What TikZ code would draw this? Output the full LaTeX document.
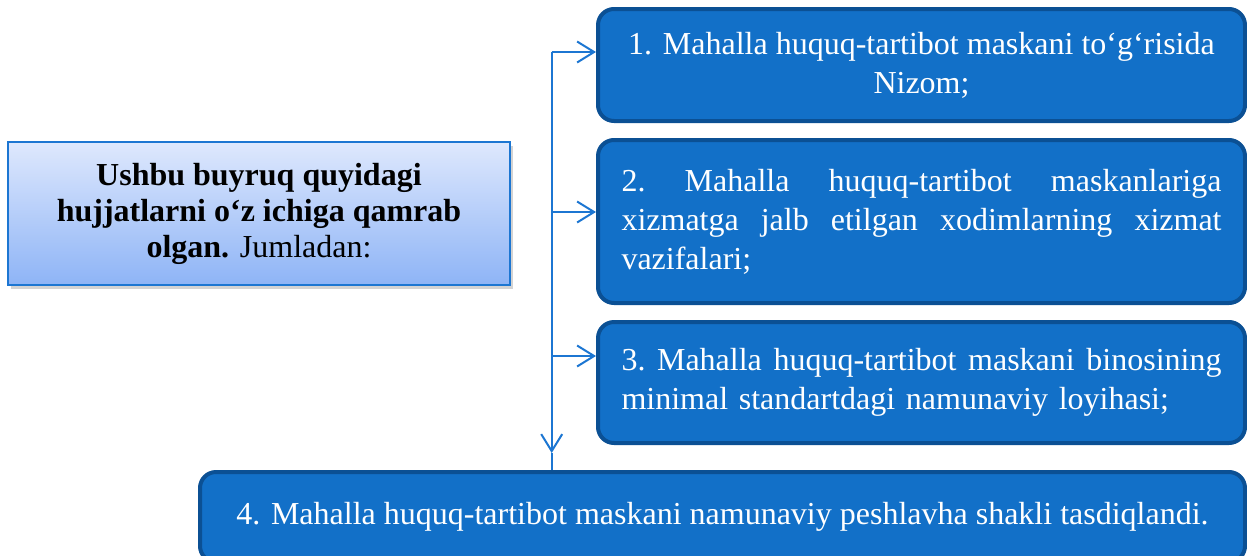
\documentclass[tikz,border=0pt]{standalone}
\usepackage{fontspec}
\setmainfont{Liberation Serif}
\usetikzlibrary{arrows.meta,shadows}
\definecolor{boxblue}{RGB}{18,112,200}
\definecolor{boxedge}{RGB}{11,80,148}
\definecolor{linkblue}{RGB}{28,118,210}
\definecolor{leadtop}{RGB}{222,232,253}
\definecolor{leadbot}{RGB}{142,180,246}
% one justified line, spaces spread to the full width
\newcommand\fullline[1]{\leavevmode\hbox to 600pt{\spaceskip=.25em plus 1fil minus .1em\xspaceskip=\spaceskip\relax#1}}
\begin{document}
\begin{tikzpicture}[x=1pt,y=-1pt,>={Straight Barb[length=17pt,width=21pt]},
  item/.style={rectangle,rounded corners=16pt,fill=boxblue,draw=boxedge,line width=4pt,
    text=white,font=\fontsize{32}{39}\selectfont,inner sep=0pt},
  lead/.style={rectangle,draw=linkblue,line width=1.5pt,top color=leadtop,bottom color=leadbot,
    drop shadow={shadow xshift=3pt,shadow yshift=-4pt,opacity=0.35},
    font=\fontsize{32}{36}\selectfont,align=center,inner sep=0pt},
  link/.style={draw=linkblue,line width=2pt}]
  \useasboundingbox (0,0) rectangle (1247,555);
  \clip (0,0) rectangle (1247,555);

  \node[lead,minimum width=502pt,minimum height=143pt] (lead) at (259,213.5)
    {\textbf{Ushbu buyruq quyidagi}\\ \textbf{hujjatlarni o‘z ichiga qamrab}\\ \textbf{olgan.} Jumladan:};

  \node[item,minimum width=647pt,minimum height=112pt,align=center] (b1) at (921.5,65)
    {1. Mahalla huquq-tartibot maskani to‘g‘risida\\ Nizom;};
  \node[item,minimum width=647pt,minimum height=163pt,text width=600pt,align=left] (b2) at (921.5,221.5)
    {\fullline{2. Mahalla huquq-tartibot maskanlariga}\\
     \fullline{xizmatga jalb etilgan xodimlarning xizmat}\\ vazifalari;};
  \node[item,minimum width=647pt,minimum height=121pt,text width=600pt,align=left] (b3) at (921.5,382.5)
    {\fullline{3. Mahalla huquq-tartibot maskani binosining}\\
     minimal standartdagi namunaviy loyihasi;};
  \node[item,minimum width=1045pt,minimum height=90pt,align=center] (b4) at (722.5,517)
    {4. Mahalla huquq-tartibot maskani namunaviy peshlavha shakli tasdiqlandi.};

  % trunk and branches
  \coordinate (j1) at (551.7,52);
  \coordinate (j2) at (551.7,212);
  \coordinate (j3) at (551.7,356);
  \coordinate (tip) at (551.7,453);

  \path[->] (j1) edge[link] (j1 -| b1.west)
            (j2) edge[link] (j2 -| b2.west)
            (j3) edge[link] (j3 -| b3.west)
            (j1) edge[link] (tip);
  \draw[link] (tip) -- (tip |- b4.north);
\end{tikzpicture}
\end{document}
